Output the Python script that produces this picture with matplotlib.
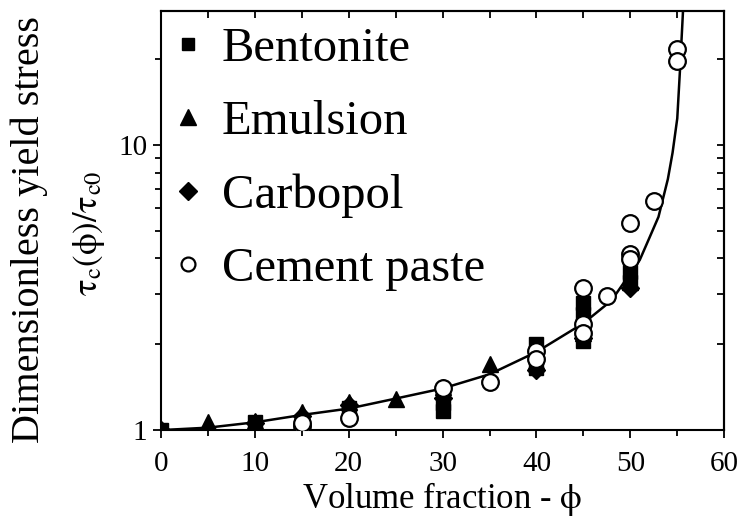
import numpy as np
import matplotlib
matplotlib.use('Agg')
import matplotlib.pyplot as plt
from matplotlib.lines import Line2D
from matplotlib.ticker import LogLocator, MultipleLocator, FuncFormatter, NullFormatter

plt.rcParams['font.family'] = ['Liberation Serif', 'DejaVu Serif']
plt.rcParams['mathtext.fontset'] = 'stix'

# data
bent_x = [0, 10, 20, 30, 30, 40, 40, 45, 45, 45, 50, 50]
bent_y = [1.0, 1.07, 1.20, 1.17, 1.24, 2.0, 1.65, 2.8, 2.55, 2.05, 3.6, 3.3]
emul_x = [0, 5, 10, 15, 20, 25, 30, 35, 40, 45, 45, 50]
emul_y = [1.0, 1.07, 1.08, 1.16, 1.25, 1.29, 1.42, 1.70, 1.75, 2.5, 2.2, 3.3]
carb_x = [0, 10, 15, 20, 30, 40, 45, 50]
carb_y = [1.0, 1.06, 1.12, 1.22, 1.30, 1.62, 2.1, 3.15]
cem_x = [15, 15, 20, 30, 35, 40, 40, 45, 45, 45, 47.5, 50, 50, 50, 52.5, 55, 55]
cem_y = [1.03, 1.06, 1.10, 1.40, 1.47, 1.90, 1.78, 3.14, 2.36, 2.2, 2.96, 5.33, 4.16, 3.99, 6.37, 21.7, 19.8]

# fitted curve, read point by point
curve_x = [0, 5, 10, 15, 20, 25, 30, 35, 40, 45, 48, 50, 51, 52, 53, 54, 54.5, 55, 55.3, 55.6, 55.8]
curve_y = [1.0, 1.02, 1.065, 1.13, 1.19, 1.29, 1.40, 1.57, 1.88, 2.37, 2.85, 3.55, 3.95, 4.7, 5.6, 7.6, 9.4, 12.4, 18.6, 29, 40]

labels = ['Bentonite', 'Emulsion', 'Carbopol', 'Cement paste']

fig = plt.figure(figsize=(7.42, 5.31), dpi=100)
ax = fig.add_axes([0.217, 0.190, 0.759, 0.789])

ax.plot(curve_x, curve_y, color='black', lw=1.8, zorder=2)
ax.plot(bent_x, bent_y, 's', ms=10, color='black', zorder=3)
ax.plot(emul_x, emul_y, '^', ms=12, color='black', zorder=3)
ax.plot(carb_x, carb_y, 'D', ms=9, color='black', zorder=3)
ax.plot(cem_x, cem_y, 'o', ms=12, mfc='white', mec='black', mew=1.6, zorder=4)

ax.set_yscale('log')
ax.set_xlim(0, 60)
ax.set_ylim(1, 29.5)

ax.xaxis.set_major_locator(MultipleLocator(10))
ax.xaxis.set_minor_locator(MultipleLocator(5))
ax.yaxis.set_major_locator(LogLocator(base=10, subs=(1.0,)))
ax.yaxis.set_minor_locator(LogLocator(base=10, subs=np.arange(2, 10)))
ax.yaxis.set_major_formatter(FuncFormatter(lambda v, p: '%g' % v))
ax.yaxis.set_minor_formatter(NullFormatter())

ax.tick_params(which='both', direction='out', labelsize=21, width=1.3)
ax.tick_params(axis='x', pad=9)
ax.tick_params(axis='y', pad=4)
ax.tick_params(which='major', length=6)
ax.tick_params(which='minor', length=4)
for s in ax.spines.values():
    s.set_linewidth(1.5)

# top and right ticks point inward
top = ax.secondary_xaxis('top')
top.xaxis.set_major_locator(MultipleLocator(5))
top.tick_params(direction='in', length=5, width=1.3, labeltop=False)
top.spines['top'].set_linewidth(1.5)
right = ax.secondary_yaxis('right')
right.yaxis.set_major_locator(LogLocator(base=10, subs=np.arange(1, 10)))
right.yaxis.set_minor_locator(LogLocator(base=10, subs=()))
right.tick_params(which='both', direction='in', length=5, width=1.3, labelright=False)
right.spines['right'].set_linewidth(1.5)

ax.set_xlabel(r'Volume fraction - $\mathrm{\phi}$', fontsize=25, labelpad=2)
fig.text(0.040, 0.567, 'Dimensionless yield stress', rotation=90, fontsize=29,
         ha='center', va='center')
fig.text(0.120, 0.56, r'$\mathrm{\tau_c(\phi)/\tau_{c0}}$', rotation=90, fontsize=25,
         ha='center', va='center')

handles = [
    Line2D([], [], ls='none', marker='s', ms=9, color='black'),
    Line2D([], [], ls='none', marker='^', ms=12, color='black'),
    Line2D([], [], ls='none', marker='D', ms=9, color='black'),
    Line2D([], [], ls='none', marker='o', ms=10, mfc='white', mec='black', mew=1.6),
]
ax.legend(handles, labels, loc='upper left', bbox_to_anchor=(0.009, 0.963), frameon=False,
          fontsize=35, handlelength=0.9, handletextpad=0.25, labelspacing=0.6,
          borderaxespad=0, borderpad=0)

fig.savefig('out.png', dpi=100)
